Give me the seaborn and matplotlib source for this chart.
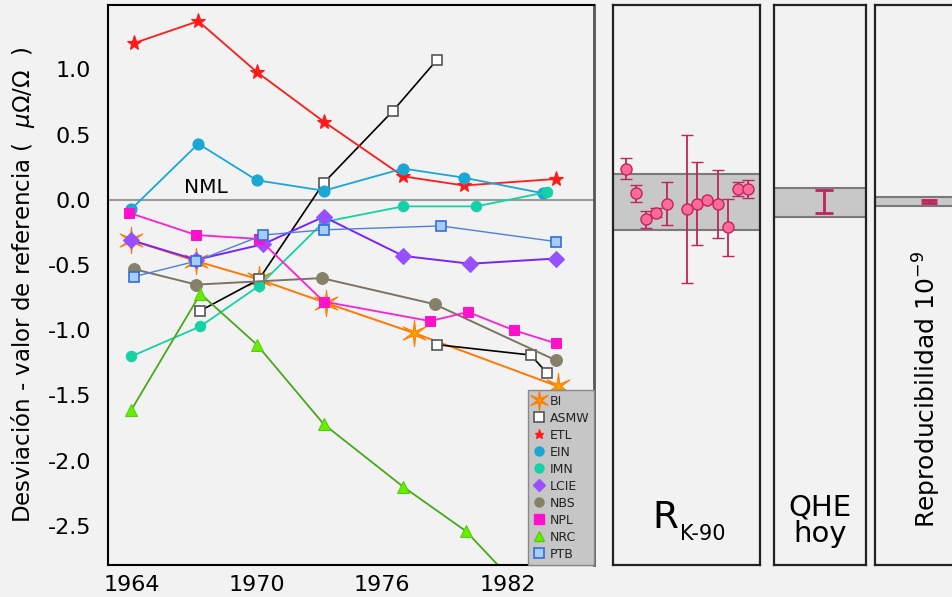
import matplotlib
matplotlib.use('Agg')
import seaborn as sns
import matplotlib.pyplot as plt
from matplotlib.lines import Line2D
from matplotlib.path import Path

# desviación respecto al valor de referencia (uOhm/Ohm), por laboratorio
bi_year = [1964.0, 1967.1, 1970.1, 1973.3, 1977.5, 1984.4]
bi_val = [-0.31, -0.47, -0.61, -0.79, -1.02, -1.43]
asmw_year = [1967.3, 1970.1, 1973.2, 1976.5, 1978.6, 1978.6, 1983.1, 1983.9]
asmw_val = [-0.85, -0.61, 0.13, 0.68, 1.07, -1.11, -1.19, -1.33]
asmw_seg = [0, 0, 0, 0, 0, 1, 1, 1]
etl_year = [1964.1, 1967.2, 1970.0, 1973.2, 1977.0, 1979.9, 1984.3]
etl_val = [1.20, 1.37, 0.98, 0.60, 0.18, 0.11, 0.16]
ein_year = [1964.0, 1967.2, 1970.0, 1973.2, 1977.0, 1979.9, 1983.7]
ein_val = [-0.07, 0.43, 0.15, 0.07, 0.24, 0.17, 0.05]
imn_year = [1964.0, 1967.3, 1970.1, 1973.2, 1977.0, 1980.5, 1983.9]
imn_val = [-1.20, -0.97, -0.66, -0.17, -0.05, -0.05, 0.06]
lcie_year = [1964.0, 1967.1, 1970.3, 1973.2, 1977.0, 1980.2, 1984.3]
lcie_val = [-0.31, -0.46, -0.34, -0.13, -0.43, -0.49, -0.45]
nbs_year = [1964.1, 1967.1, 1973.1, 1978.5, 1984.3]
nbs_val = [-0.53, -0.65, -0.60, -0.80, -1.23]
npl_year = [1963.9, 1967.1, 1970.1, 1973.2, 1978.3, 1980.1, 1982.3, 1984.3]
npl_val = [-0.10, -0.27, -0.30, -0.78, -0.93, -0.86, -1.00, -1.10]
nrc_year = [1964.0, 1967.3, 1970.0, 1973.2, 1977.0, 1980.0, 1983.0]
nrc_val = [-1.61, -0.72, -1.11, -1.72, -2.20, -2.54, -3.05]
ptb_year = [1964.1, 1967.1, 1970.3, 1973.2, 1978.8, 1984.3]
ptb_val = [-0.59, -0.47, -0.27, -0.23, -0.20, -0.32]
nml_ref = 0.0

# paneles de la derecha
rk_idx = [1, 2, 3, 4, 5, 7, 8, 9, 10, 11, 12, 13]
rk_val = [0.24, 0.05, -0.15, -0.10, -0.03, -0.07, -0.03, 0.0, -0.03, -0.21, 0.08, 0.08]
rk_err = [0.083, 0.064, 0.064, 0.035, 0.165, 0.57, 0.32, 0.0, 0.26, 0.22, 0.053, 0.069]
rk_band = [-0.23, 0.20]
qhe_val = [-0.015]
qhe_err = [0.087]
qhe_band = [-0.128, 0.094]
rep_val = [-0.015]
rep_err = [0.012]
rep_band = [-0.044, 0.021]

xticks = [1964, 1970, 1976, 1982]
yticks = [1.0, 0.5, 0.0, -0.5, -1.0, -1.5, -2.0, -2.5]

bg = '#f2f2f2'
sns.set_theme(style='white', rc={'axes.facecolor': bg, 'figure.facecolor': bg})
plt.rcParams['font.family'] = ['DejaVu Sans']
plt.rcParams['axes.unicode_minus'] = False
plt.rcParams['text.color'] = 'black'
plt.rcParams['axes.labelcolor'] = 'black'
plt.rcParams['xtick.color'] = 'black'
plt.rcParams['ytick.color'] = 'black'

W, H = 953, 597
fig = plt.figure(figsize=(W / 100, H / 100), dpi=100)


def px_axes(x0, x1, y0, y1):
    return fig.add_axes([x0 / W, 1 - y1 / H, (x1 - x0) / W, (y1 - y0) / H])


ax = px_axes(108, 594, 5, 565)
ax1 = px_axes(613, 760, 5, 565)
ax2 = px_axes(774, 866, 5, 565)
ax3 = px_axes(875, 990, 5, 565)

star = Path.unit_regular_star(6, 0.2)

series = [
    ('BI', bi_year, bi_val, None, dict(color='#ff7a00', marker=star, ms=19, mfc='#ffa000', mec='#ff7a00', lw=1.4)),
    ('ASMW', asmw_year, asmw_val, asmw_seg, dict(color='black', marker='s', ms=7, mfc='white', mec='#555555', mew=1.2, lw=1.2)),
    ('ETL', etl_year, etl_val, None, dict(color='#ff1a1a', marker='*', ms=11, mfc='#ff1a1a', mec='#ff1a1a', lw=1.3)),
    ('EIN', ein_year, ein_val, None, dict(color='#1aa7d4', marker='o', ms=8, mfc='#1aa7d4', mec='#1aa7d4', lw=1.3)),
    ('IMN', imn_year, imn_val, None, dict(color='#14d1a6', marker='o', ms=7.5, mfc='#14d1a6', mec='#14d1a6', lw=1.3)),
    ('LCIE', lcie_year, lcie_val, None, dict(color='#7b22ff', marker='D', ms=8.5, mfc='#9650ff', mec='#9650ff', lw=1.4)),
    ('NBS', nbs_year, nbs_val, None, dict(color='#7d7363', marker='o', ms=8.5, mfc='#878068', mec='#878068', lw=1.4)),
    ('NPL', npl_year, npl_val, None, dict(color='#ff1fd2', marker='s', ms=7, mfc='#ff11cc', mec='#ff11cc', lw=1.3)),
    ('NRC', nrc_year, nrc_val, None, dict(color='#48a818', marker='^', ms=9, mfc='#66ee00', mec='#55cc11', lw=1.3)),
    ('PTB', ptb_year, ptb_val, None, dict(color='#4d7fdf', marker='s', ms=7, mfc='#a9cbfa', mec='#2f6fdc', mew=1.2, lw=1.0)),
]

ax.axhline(nml_ref, color='#999999', lw=1.5, zorder=1)
ax.text(1967.55, nml_ref + 0.02, 'NML', ha='center', va='bottom', fontsize=14.5)

for name, yrs, vals, seg, st in series:
    sns.lineplot(x=yrs, y=vals, units=seg, estimator=None, sort=False, ax=ax,
                 legend=False, **st)

handles = []
for name, yrs, vals, seg, st in series:
    ms = 14 if name == 'BI' else 6.5
    handles.append(Line2D([], [], ls='', marker=st['marker'], ms=ms, mfc=st['mfc'],
                          mec=st['mec'], mew=st.get('mew', 1.0), label=name))
leg = ax.legend(handles=handles, loc='lower right', bbox_to_anchor=(1.0, 0.0),
                borderaxespad=0, fontsize=9, frameon=True, fancybox=False,
                facecolor='#c6c6c6', edgecolor='#888888', framealpha=1,
                handlelength=1.0, handletextpad=0.4, labelspacing=0.32,
                borderpad=0.35)
for t in leg.get_texts():
    t.set_color('#222222')

ax.set_xlim(1962.88, 1986.13)
ax.set_ylim(-2.8, 1.494)
ax.set_xticks(xticks)
ax.set_yticks(yticks)
ax.set_yticklabels([f'{v:.1f}' for v in yticks])
ax.tick_params(direction='in', length=9, width=1.4, labelsize=16, color='black')
ax.tick_params(axis='y', pad=12)
ax.tick_params(axis='x', pad=7)
ax.set_ylabel('Desviación - valor de referencia (  $\\mu\\Omega/\\Omega$  )', fontsize=16.5, labelpad=8)
for side in ['left', 'bottom', 'top']:
    ax.spines[side].set_color('black')
    ax.spines[side].set_linewidth(1.5)
ax.spines['right'].set_color('#555555')
ax.spines['right'].set_linewidth(2)

# paneles R_K-90, QHE hoy, reproducibilidad
panels = [
    (ax1, rk_idx, rk_val, rk_err, rk_band, (-0.27, 14.17), 4),
    (ax2, [0.54], qhe_val, qhe_err, qhe_band, (0, 1), 6.5),
    (ax3, [0.47], rep_val, rep_err, rep_band, (0, 1), 6),
]
for pax, xs, vals, errs, band, xl, cap in panels:
    pax.axhspan(band[0], band[1], facecolor='#c8c8c8', edgecolor='#7a7a7a', lw=1.5, zorder=1)
    if pax is ax1:
        pax.errorbar(xs, vals, yerr=errs, fmt='o', ms=8, mfc='#ff6a9a', mec='#c0245c', mew=1.0,
                     ecolor='#c0245c', elinewidth=1.3, capsize=cap, capthick=1.3, zorder=3)
    else:
        pax.errorbar(xs, vals, yerr=errs, fmt='none', ecolor='#c0245c', elinewidth=2,
                     capsize=cap, capthick=2, zorder=3)
    pax.set_xlim(*xl)
    pax.set_ylim(-2.8, 1.494)
    pax.set_xticks([])
    pax.set_yticks([])
    for s in pax.spines.values():
        s.set_color('#222222')
        s.set_linewidth(1.6)

ax1.text(0.27, 0.066, 'R', transform=ax1.transAxes, fontsize=27, ha='left', va='baseline')
ax1.text(0.456, 0.045, 'K-90', transform=ax1.transAxes, fontsize=15, ha='left', va='baseline')
ax2.text(0.5, 0.03, 'QHE\nhoy', transform=ax2.transAxes, fontsize=21, ha='center', va='bottom',
         linespacing=0.95)
ax3.text(0.455, 0.3125, 'Reproducibilidad 10$^{-9}$', transform=ax3.transAxes, fontsize=18,
         rotation=90, ha='center', va='center')

fig.savefig('out.png', dpi=100)
